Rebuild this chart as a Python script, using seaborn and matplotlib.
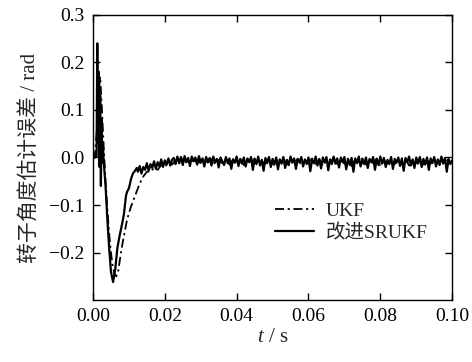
import numpy as np
import pandas as pd
import matplotlib
matplotlib.use("Agg")
import matplotlib.pyplot as plt
import seaborn as sns

# ---- data ----
# transient part of the improved SRUKF error
sr_t_transient = [0.0, 0.0005, 0.0010, 0.0012, 0.0014, 0.0016, 0.0018, 0.0020, 0.0022,
                  0.0024, 0.0026, 0.0028, 0.0030, 0.0035, 0.0040, 0.0045, 0.0050,
                  0.0056, 0.0062, 0.0068, 0.0074, 0.0081, 0.0086, 0.0092, 0.0095,
                  0.0100, 0.0106, 0.0111, 0.0117, 0.0122]
sr_v_transient = [0.0, 0.0, 0.002, 0.24, 0.03, 0.18, -0.02, 0.13, -0.06, 0.08, -0.01,
                  0.02, -0.01, -0.06, -0.13, -0.19, -0.24, -0.262, -0.235, -0.19,
                  -0.165, -0.14, -0.12, -0.08, -0.072, -0.065, -0.045, -0.034, -0.028,
                  -0.022]
# steady-state part of the improved SRUKF error (t = 0.0125 ... 0.1, step 0.0005)
sr_v_steady = [
    -0.030, -0.018, -0.034, -0.020, -0.026, -0.012, -0.028, -0.014, -0.022, -0.008,
    -0.024, -0.010, -0.018, -0.004, -0.020, -0.006, -0.015, -0.002, -0.017, -0.005,
    -0.001, -0.014, 0.002, -0.012, 0.001, -0.016, 0.003, -0.010, -0.001, -0.018,
    0.002, -0.008, 0.000, -0.015, 0.003, -0.011, -0.002, -0.019, 0.001, -0.009,
    -0.001, -0.017, 0.002, -0.010, -0.003, -0.021, 0.000, -0.008, -0.016, 0.001,
    -0.012, -0.002, -0.024, -0.004, -0.011, 0.002, -0.018, -0.003, -0.013, 0.000,
    -0.019, -0.002, -0.010, 0.001, -0.026, -0.004, -0.014, 0.002, -0.017, -0.005,
    -0.028, -0.001, -0.012, 0.001, -0.020, -0.003, -0.015, 0.000, -0.025, -0.004,
    -0.013, 0.001, -0.022, -0.005, -0.016, 0.002, -0.011, -0.002, -0.024, -0.003,
    -0.010, 0.001, -0.019, -0.004, -0.014, 0.000, -0.029, -0.005, -0.012, 0.002,
    -0.017, -0.003, -0.023, 0.000, -0.011, 0.001, -0.027, -0.004, -0.014, 0.002,
    -0.013, -0.002, -0.021, 0.000, -0.010, 0.001, -0.025, -0.003, -0.016, -0.001,
    -0.030, -0.002, -0.012, 0.002, -0.019, -0.005, -0.014, 0.000, -0.022, -0.003,
    -0.010, 0.001, -0.026, -0.004, -0.016, 0.002, -0.013, -0.001, -0.020, -0.005,
    -0.014, 0.001, -0.024, -0.003, -0.011, 0.000, -0.018, -0.002, -0.028, -0.001,
    -0.010, 0.002, -0.017, -0.004, -0.022, 0.000, -0.013, 0.001, -0.020, -0.003,
    -0.015, 0.000, -0.026, -0.002, -0.012, 0.001, -0.019, -0.004, -0.016, 0.002,
    -0.013, -0.001, -0.030, -0.003, -0.014, -0.006]

# transient part of the UKF error
ukf_t_transient = [0.0, 0.0005, 0.0010, 0.0015, 0.0020, 0.0025, 0.0030, 0.0035, 0.0040,
                   0.0045, 0.0050, 0.0055, 0.0060, 0.0065, 0.0070, 0.0075, 0.0080,
                   0.0085, 0.0090, 0.0095, 0.0100, 0.0105, 0.0110, 0.0120, 0.0130,
                   0.0140, 0.0150]
ukf_v_transient = [0.0, 0.0, 0.05, 0.13, 0.17, 0.10, 0.02, -0.05, -0.11, -0.16, -0.20,
                   -0.23, -0.245, -0.25, -0.24, -0.215, -0.19, -0.17, -0.15, -0.13,
                   -0.118, -0.105, -0.095, -0.075, -0.055, -0.040, -0.030]
# steady-state part of the UKF error (t = 0.016 ... 0.1, step 0.001)
ukf_v_steady = [
    -0.030, -0.022, -0.026, -0.016, -0.020, -0.010, -0.015, -0.006, -0.012, -0.003,
    -0.010, -0.002, -0.012, -0.004, -0.013, -0.001, -0.011, -0.003, -0.014, -0.005,
    -0.012, -0.002, -0.015, -0.004, -0.010, -0.003, -0.016, -0.005, -0.011, -0.002,
    -0.014, -0.006, -0.013, -0.001, -0.017, -0.004, -0.011, -0.002, -0.015, -0.006,
    -0.012, -0.003, -0.016, -0.005, -0.010, -0.002, -0.014, -0.004, -0.017, -0.006,
    -0.011, -0.001, -0.014, -0.005, -0.013, -0.003, -0.018, -0.004, -0.010, -0.002,
    -0.015, -0.005, -0.012, -0.002, -0.016, -0.006, -0.013, -0.001, -0.014, -0.004,
    -0.011, -0.003, -0.017, -0.005, -0.012, -0.002, -0.015, -0.006, -0.013, -0.004,
    -0.014, -0.005, -0.012, -0.003, -0.011]

labels = ["UKF", "改进SRUKF"]
x_ticks = [0.00, 0.02, 0.04, 0.06, 0.08, 0.10]
y_ticks = [-0.2, -0.1, 0.0, 0.1, 0.2, 0.3]

# ---- build tables ----
sr_t_steady = np.linspace(0.0125, 0.1, len(sr_v_steady))
ukf_t_steady = np.linspace(0.016, 0.1, len(ukf_v_steady))
df_ukf = pd.DataFrame({"t": list(ukf_t_transient) + list(ukf_t_steady),
                       "v": ukf_v_transient + ukf_v_steady, "method": labels[0]})
df_sr = pd.DataFrame({"t": list(sr_t_transient) + list(sr_t_steady),
                      "v": sr_v_transient + sr_v_steady, "method": labels[1]})

sns.set_theme(style="ticks")
plt.rcParams["font.family"] = ["Liberation Serif", "Noto Sans CJK SC", "DejaVu Sans"]
plt.rcParams["mathtext.fontset"] = "custom"
plt.rcParams["mathtext.rm"] = "Liberation Serif"
plt.rcParams["mathtext.it"] = "Liberation Serif:italic"
plt.rcParams["axes.unicode_minus"] = True

fig = plt.figure(figsize=(4.72, 3.62), dpi=100)
ax = fig.add_axes([0.197, 0.171, 0.761, 0.788])

sns.lineplot(data=df_ukf, x="t", y="v", ax=ax, color="black", lw=1.3,
             estimator=None, sort=False, label=labels[0])
ax.lines[-1].set_dashes([5, 2, 1.2, 2])
sns.lineplot(data=df_sr, x="t", y="v", ax=ax, color="black", lw=1.6,
             estimator=None, sort=False, label=labels[1])

ax.set_xlim(0.0, 0.1)
ax.set_ylim(-0.3, 0.3)
ax.set_xticks(x_ticks)
ax.set_xticklabels([f"{v:.2f}" for v in x_ticks])
ax.set_yticks(y_ticks)
ax.set_yticklabels([f"{v:.1f}".replace("-", "\u2212") for v in y_ticks])
ax.tick_params(direction="in", top=True, right=True, length=5, width=1.0,
               labelsize=14, colors="black", pad=6)
for s in ax.spines.values():
    s.set_linewidth(1.0)
    s.set_color("black")

ax.set_xlabel("$t$ / s", fontsize=15, labelpad=2)
ax.set_ylabel("转子角度估计误差 / rad", fontsize=15, labelpad=6)

leg = ax.legend(loc="upper left", bbox_to_anchor=(0.47, 0.39), frameon=False,
                fontsize=14, handlelength=2.0, handletextpad=0.6, borderpad=0.2,
                labelspacing=0.2)

fig.savefig("out.png", dpi=100)
